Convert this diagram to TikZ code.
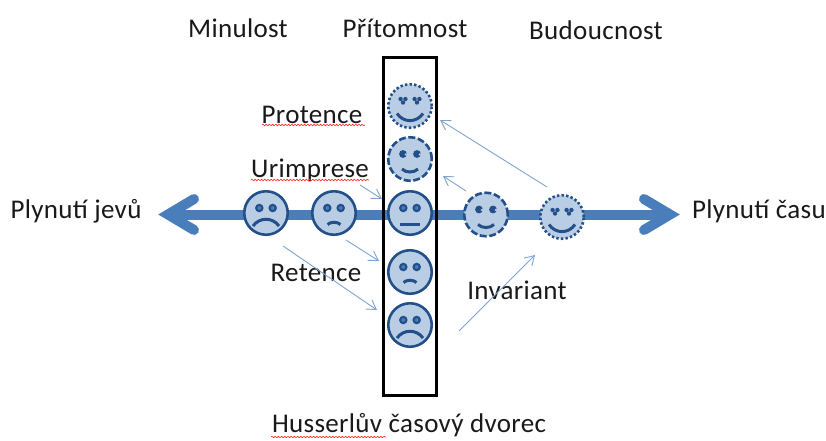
\documentclass[tikz,border=0pt]{standalone}
\usepackage{fontspec}
\setmainfont{Carlito}[LetterSpace=1.2]
\usetikzlibrary{arrows.meta,calc,decorations.pathmorphing}
\definecolor{facefill}{HTML}{B9CDE5}
\definecolor{faceline}{HTML}{24508A}
\definecolor{axisblue}{HTML}{4A7EBB}
\definecolor{thinblue}{HTML}{7FA3D0}
\tikzset{
  face/.style={circle,draw=faceline,fill=facefill,line width=2.6pt,minimum size=43.5pt,inner sep=0pt},
  facedash/.style={face,dash pattern=on 7pt off 2.6pt},
  facedot/.style={face,dash pattern=on 2.4pt off 2.2pt},
  mouthline/.style={draw=faceline,line width=3pt},
  axisline/.style={draw=axisblue,line width=10pt},
  axishead/.style={draw=axisblue,line width=10pt,line cap=round,miter limit=10},
  thinarrow/.style={draw=thinblue,line width=.9pt,-{Straight Barb[length=9pt,width=11pt,line width=.9pt]}},
  label/.style={font=\fontsize{27}{29}\selectfont,inner sep=0pt,text=black!90},
  spell/.style={draw=red!85,line width=.6pt,decorate,decoration={snake,amplitude=.8pt,segment length=3.2pt}}
}
\newcommand{\facemouth}[4]{\draw[mouthline] ($(#1)+(-#2,#3)$) .. controls ($(#1)+(-#2/2,#4)$) and ($(#1)+(#2/2,#4)$) .. ($(#1)+(#2,#3)$);}
\newcommand{\ringeyes}[1]{
  \filldraw[draw=faceline,fill=axisblue,line width=2.2pt] ($(#1)+(-6.7,-5)$) circle (3.1pt);
  \filldraw[draw=faceline,fill=axisblue,line width=2.2pt] ($(#1)+(6.7,-5)$) circle (3.1pt);
}
\newcommand{\hookeyes}[1]{
  \fill[faceline] ($(#1)+(-7,-5)$) circle (3.9pt);
  \fill[faceline] ($(#1)+(7,-5)$) circle (3.9pt);
  \fill[facefill] ($(#1)+(-4,-4.5)$) circle (1.3pt);
  \fill[facefill] ($(#1)+(10,-4.5)$) circle (1.3pt);
}
\newcommand{\dotcluster}[2]{
  \fill[faceline] ($(#1)+(#2,-5.5)+(-2.4,-1.5)$) circle (2.2pt);
  \fill[faceline] ($(#1)+(#2,-5.5)+(2.4,-1.5)$) circle (2.2pt);
  \fill[faceline] ($(#1)+(#2,-5.5)+(0,2)$) circle (2.2pt);
}
\begin{document}
\begin{tikzpicture}[x=1pt,y=-1pt]
\useasboundingbox (0,0) rectangle (826,440);

\coordinate (axisL) at (168,214.5);
\coordinate (axisR) at (670,214.5);
\draw[axisline] (axisL) -- (axisR);
\draw[axishead] ($(axisL)+(26,-15.5)$) -- (axisL) -- ($(axisL)+(26,15.5)$);
\draw[axishead] ($(axisR)+(-26,-15.5)$) -- (axisR) -- ($(axisR)+(-26,15.5)$);

\node[draw=black,line width=3pt,minimum width=53pt,minimum height=338pt,inner sep=0pt] (dvorec) at (409.5,226) {};

\node[facedot] (pro2) at (410,106) {};
\node[facedash] (pro1) at (410,159) {};
\node[face] (now) at (410,213) {};
\node[face] (ret1) at (410,272) {};
\node[face] (ret2) at (410,325) {};
\node[face] (past2) at (266,213) {};
\node[face] (past1) at (334,213) {};
\node[facedash] (fut1) at (486,214.5) {};
\node[facedot] (fut2) at (562,217) {};

\ringeyes{past2}
\ringeyes{past1}
\ringeyes{now}
\ringeyes{ret1}
\ringeyes{ret2}
\hookeyes{pro1}
\hookeyes{fut1}
\dotcluster{pro2}{-7}
\dotcluster{pro2}{7}
\dotcluster{fut2}{-7}
\dotcluster{fut2}{7}

\facemouth{past2}{13}{13}{4}
\facemouth{ret2}{13}{13}{4}
\facemouth{past1}{6.5}{11.5}{8.5}
\facemouth{ret1}{6.5}{10.5}{7.5}
\facemouth{now}{10}{11}{11}
\facemouth{pro1}{8}{10}{14}
\facemouth{fut1}{8}{10}{14}
\facemouth{pro2}{13}{7.5}{17}
\facemouth{fut2}{13}{7.5}{17}

\node[label] (minulost) at (238,28) {Minulost};
\node[label] (pritomnost) at (405,28) {Přítomnost};
\node[label] (budoucnost) at (596,30) {Budoucnost};
\node[label] (protence) at (312,115) {Protence};
\node[label] (urimprese) at (310,170) {Urimprese};
\node[label] (retence) at (316,273) {Retence};
\node[label] (invariant) at (517,290) {Invariant};
\node[label] (jevy) at (76,211) {Plynutí jevů};
\node[label] (cas) at (759,211) {Plynutí času};
\node[label] (dvorecText) at (409,425) {Husserlův časový dvorec};

\draw[spell] (262,125) -- (365,125);
\draw[spell] (251,180) -- (369,180);
\draw[spell] (271,437) -- (386,437);

\coordinate (a1) at (283,246);
\coordinate (b1) at (377,310);
\coordinate (a2) at (346,240);
\coordinate (b2) at (379,261);
\coordinate (a3) at (360,185);
\coordinate (b3) at (382,199);
\coordinate (a4) at (466,191);
\coordinate (b4) at (443,176);
\coordinate (a5) at (547,187);
\coordinate (b5) at (440,120);
\coordinate (a6) at (459,331);
\coordinate (b6) at (535,255);
\foreach \n in {1,...,6}
  \draw[thinarrow] (a\n) -- (b\n);
\end{tikzpicture}
\end{document}
